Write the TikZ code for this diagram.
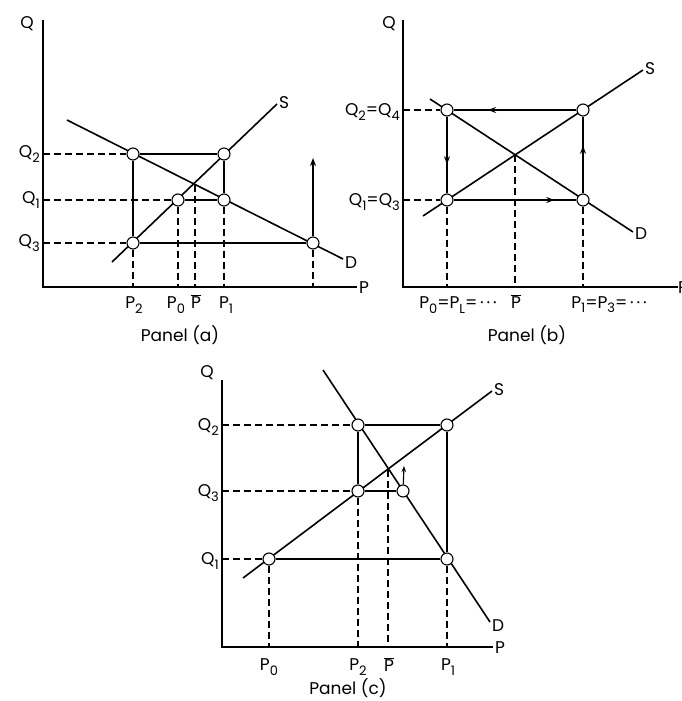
\documentclass[tikz,border=0pt]{standalone}
\usepackage{fontspec}
\setmainfont{Poppins}
\usetikzlibrary{arrows.meta,backgrounds,decorations.markings}
\tikzset{
  pt/.style     ={circle,draw=black,fill=white,line width=1.1pt,
                  minimum size=12pt,inner sep=0pt},
  axis/.style   ={line width=1.6pt},
  curve/.style  ={line width=1.6pt},
  guide/.style  ={line width=1.3pt,dash pattern=on 7pt off 4pt},
  walk/.style   ={line width=1.4pt},
  lbl/.style    ={font=\fontsize{17}{19}\selectfont,inner sep=1pt},
  midarr/.style ={postaction={decorate},decoration={markings,
                  mark=at position #1 with {\arrow{Stealth[length=8pt,width=6pt]}}}},
}
\newcommand{\lo}[1]{\raisebox{-0.45ex}{\fontsize{13}{13}\selectfont #1}}
\newcommand{\Pbar}{$\overline{\mbox{P}}$}
\newcommand{\dotsrow}{\,\textperiodcentered\,\textperiodcentered\,\textperiodcentered}

\begin{document}
\begin{tikzpicture}[
  >={Stealth[length=8pt,width=6pt]},
  x=1pt, y=-1pt,
]
\useasboundingbox (0,0) rectangle (681,701);

%% ---------------- panel (a) ----------------
\coordinate (aO) at (43,287);
\coordinate (aQ) at (43,20);
\coordinate (aP) at (357,287);
\draw[axis] (aQ) -- (aO) -- (aP);
\node[lbl] (aQlab) at (27,24) {Q};
\node[lbl,anchor=west] (aPlab) at (358,288) {P};

\node[pt] (aA) at (133,154) {};
\node[pt] (aB) at (224,154) {};
\node[pt] (aC) at (178,200) {};
\node[pt] (aE) at (224,200) {};
\node[pt] (aF) at (133,243) {};
\node[pt] (aG) at (313,243) {};
\coordinate (aX) at (195,185);

\coordinate (aD0) at (67,120);  \coordinate (aD1) at (343,259);
\coordinate (aS0) at (112,262); \coordinate (aS1) at (277,104);
\node[lbl,anchor=west] (aDlab) at (344,263) {D};
\node[lbl,anchor=west] (aSlab) at (278,103) {S};

%% axis ends of the guides
\coordinate (aq2) at (43,154); \coordinate (aq1) at (43,200); \coordinate (aq3) at (43,243);
\coordinate (ap2) at (133,287); \coordinate (ap0) at (178,287); \coordinate (apb) at (195,287);
\coordinate (ap1) at (224,287); \coordinate (apg) at (313,287);
\coordinate (aup) at (313,158);

\begin{scope}[on background layer]
  \draw[curve] (aD0) -- (aD1);
  \draw[curve] (aS0) -- (aS1);
\end{scope}
\foreach \u/\v in {aq2/aA, aq1/aC, aq3/aF, aF/ap2, aC/ap0, aX/apb, aE/ap1, aG/apg}{
  \draw[guide] (\u) -- (\v);
}
\foreach \u/\v in {aA/aB, aA/aF, aB/aE, aC/aE, aF/aG}{
  \draw[walk] (\u) -- (\v);
}
\draw[walk,->] (aG) -- (aup);

\node[lbl,anchor=east] (aQ2lab) at (41,154) {Q\lo{2}};
\node[lbl,anchor=east] (aQ1lab) at (41,200) {Q\lo{1}};
\node[lbl,anchor=east] (aQ3lab) at (41,243) {Q\lo{3}};
\node[lbl] (aP2lab) at (134,305) {P\lo{2}};
\node[lbl] (aP0lab) at (176,305) {P\lo{0}};
\node[lbl] (aPblab) at (196,302) {\Pbar};
\node[lbl] (aP1lab) at (226,305) {P\lo{1}};
\node[lbl] (acap) at (180,335) {Panel (a)};

%% ---------------- panel (b) ----------------
\coordinate (bO) at (403,287);
\coordinate (bQ) at (403,20);
\coordinate (bP) at (678,287);
\draw[axis] (bQ) -- (bO) -- (bP);
\node[lbl] (bQlab) at (389,24) {Q};
\node[lbl,anchor=west] (bPlab) at (677,288) {P};

\node[pt] (bTL) at (447,110) {};
\node[pt] (bTR) at (583,110) {};
\node[pt] (bBL) at (447,200) {};
\node[pt] (bBR) at (583,200) {};
\coordinate (bX) at (515,155);

\coordinate (bD0) at (430,99);  \coordinate (bD1) at (633,232);
\coordinate (bS0) at (423,216); \coordinate (bS1) at (643,70);
\node[lbl,anchor=west] (bDlab) at (634,234) {D};
\node[lbl,anchor=west] (bSlab) at (644,69) {S};

\coordinate (bq2) at (403,110); \coordinate (bq1) at (403,200);
\coordinate (bp0) at (447,287); \coordinate (bpb) at (515,287); \coordinate (bp1) at (583,287);

\begin{scope}[on background layer]
  \draw[curve] (bD0) -- (bD1);
  \draw[curve] (bS0) -- (bS1);
\end{scope}
\foreach \u/\v in {bq2/bTL, bq1/bBL, bBL/bp0, bX/bpb, bBR/bp1}{
  \draw[guide] (\u) -- (\v);
}
%% the cobweb, one arrow on each side
\draw[walk,midarr=0.72] (bTR) -- (bTL);
\draw[walk,midarr=0.62] (bTL) -- (bBL);
\draw[walk,midarr=0.82] (bBL) -- (bBR);
\draw[walk,midarr=0.62] (bBR) -- (bTR);

\node[lbl,anchor=east] (bQ2lab) at (401,112) {Q\lo{2}=Q\lo{4}};
\node[lbl,anchor=east] (bQ1lab) at (401,202) {Q\lo{1}=Q\lo{3}};
\node[lbl] (bP0lab) at (458,305) {P\lo{0}=P\lo{L}=\dotsrow};
\node[lbl] (bPblab) at (516,302) {\Pbar};
\node[lbl] (bP1lab) at (609,305) {P\lo{1}=P\lo{3}=\dotsrow};
\node[lbl] (bcap) at (527,335) {Panel (b)};

%% ---------------- panel (c) ----------------
\coordinate (cO) at (222,647);
\coordinate (cQ) at (222,380);
\coordinate (cP) at (493,647);
\draw[axis] (cQ) -- (cO) -- (cP);
\node[lbl] (cQlab) at (207,373) {Q};
\node[lbl,anchor=west] (cPlab) at (494,648) {P};

\node[pt] (cA) at (269,559) {};
\node[pt] (cB) at (358,425) {};
\node[pt] (cC) at (447,425) {};
\node[pt] (cE) at (358,491) {};
\node[pt] (cF) at (403,491) {};
\node[pt] (cG) at (447,559) {};
\coordinate (cX) at (388,470);

\coordinate (cD0) at (323,370); \coordinate (cD1) at (490,622);
\coordinate (cS0) at (243,578); \coordinate (cS1) at (492,391);
\node[lbl,anchor=west] (cDlab) at (491,626) {D};
\node[lbl,anchor=west] (cSlab) at (493,390) {S};

\coordinate (cq2) at (222,425); \coordinate (cq3) at (222,491); \coordinate (cq1) at (222,559);
\coordinate (cp0) at (269,647); \coordinate (cp2) at (358,647); \coordinate (cpb) at (388,647);
\coordinate (cp1) at (447,647);
\coordinate (cup) at (404,466);

\begin{scope}[on background layer]
  \draw[curve] (cD0) -- (cD1);
  \draw[curve] (cS0) -- (cS1);
\end{scope}
\foreach \u/\v in {cq2/cB, cq3/cE, cq1/cA, cA/cp0, cE/cp2, cX/cpb, cG/cp1}{
  \draw[guide] (\u) -- (\v);
}
\foreach \u/\v in {cB/cC, cB/cE, cE/cF, cC/cG, cA/cG}{
  \draw[walk] (\u) -- (\v);
}
\draw[line width=1.1pt,-{Stealth[length=6pt,width=4.5pt]}] (cF) -- (cup);

\node[lbl,anchor=east] (cQ2lab) at (220,427) {Q\lo{2}};
\node[lbl,anchor=east] (cQ3lab) at (220,493) {Q\lo{3}};
\node[lbl,anchor=east] (cQ1lab) at (220,561) {Q\lo{1}};
\node[lbl] (cP0lab) at (269,667) {P\lo{0}};
\node[lbl] (cP2lab) at (358,667) {P\lo{2}};
\node[lbl] (cPblab) at (389,665) {\Pbar};
\node[lbl] (cP1lab) at (448,667) {P\lo{1}};
\node[lbl] (ccap) at (348,688) {Panel (c)};

\end{tikzpicture}
\end{document}
